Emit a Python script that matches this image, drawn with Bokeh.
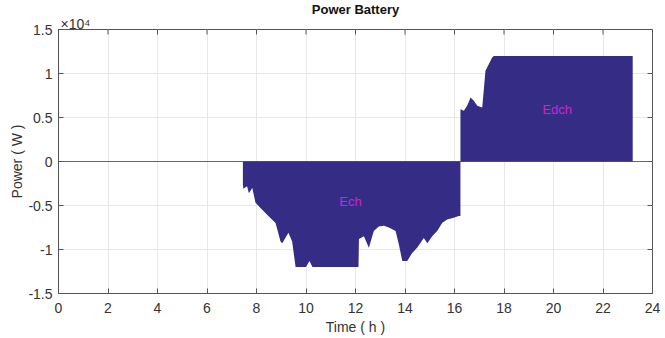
import math
from bokeh.plotting import figure
from bokeh.models import FixedTicker, Span, Label, Range1d, Title
from bokeh.embed import file_html
from bokeh.resources import INLINE

# Battery power (W) vs time (h)
time_h = [7.45, 7.45, 7.47, 7.62, 7.69, 7.83, 7.96, 8.2, 8.48, 8.77, 8.97, 9.04, 9.29, 9.44,
          9.58, 10.0, 10.14, 10.26, 12.12, 12.14, 12.34, 12.54, 12.74, 12.94, 13.15, 13.35,
          13.62, 13.75, 13.89, 14.09, 14.29, 14.49, 14.76, 14.90, 15.10, 15.30, 15.50, 15.70,
          15.97, 16.17, 16.24, 16.24, 16.38, 16.51, 16.65, 16.78, 16.92, 17.12, 17.18, 17.25,
          17.39, 17.52, 17.59, 23.2, 23.2]
power_w = [0, -2600, -3100, -2800, -3600, -3000, -4700, -5400, -6200, -7000, -9100, -9300,
           -8100, -9100, -12000, -12000, -11300, -12000, -12000, -8800, -8500, -9800, -7900,
           -7400, -7300, -7500, -7900, -9400, -11300, -11300, -10400, -9800, -8700, -9300,
           -8500, -7900, -7000, -6600, -6400, -6200, -6200, 5950, 5760, 6330, 7270, 6900,
           6330, 6130, 8040, 10320, 11080, 11830, 12000, 12000, 0]
baseline = [0] * len(time_h)

x_ticks = [0, 2, 4, 6, 8, 10, 12, 14, 16, 18, 20, 22, 24]
y_ticks = [-15000, -10000, -5000, 0, 5000, 10000, 15000]
y_tick_labels = ["-1.5", "-1", "-0.5", "0", "0.5", "1", "1.5"]

label_texts = ["Ech", "Edch"]
label_x = [11.8, 20.15]
label_y = [-4600, 5900]

X_MIN, X_MAX = 0, 24
Y_MIN, Y_MAX = -15000, 15000

FONT = "Liberation Sans"
AX = "#555555"
TXT = "#333333"

p = figure(width=665, height=338, output_backend="svg", toolbar_location=None,
           x_range=Range1d(X_MIN, X_MAX), y_range=Range1d(Y_MIN, Y_MAX),
           min_border_left=58, min_border_right=13, min_border_top=29, min_border_bottom=45,
           title=None)

# exponent note just above the top-left corner of the box, then the main title above it
p.add_layout(Title(text="\u00d710\u2074", align="left", offset=2, standoff=-4,
                   text_font=FONT, text_font_size="14px", text_font_style="normal",
                   text_color=TXT), "above")
p.add_layout(Title(text="Power Battery", align="center", standoff=-2,
                   text_font=FONT, text_font_size="13px", text_font_style="bold",
                   text_color="#111111"), "above")

p.varea(x=time_h, y1=baseline, y2=power_w, fill_color="#352C86")

zero = Span(location=0, dimension="width", line_color="#666666", line_width=1, level="underlay")
p.add_layout(zero)

p.xaxis.ticker = FixedTicker(ticks=x_ticks)
p.yaxis.ticker = FixedTicker(ticks=y_ticks)
p.yaxis.major_label_overrides = {t: l for t, l in zip(y_ticks, y_tick_labels)}

for ax in (p.xaxis[0], p.yaxis[0]):
    ax.major_tick_in = 5
    ax.major_tick_out = 0
    ax.minor_tick_in = 0
    ax.minor_tick_out = 0
    ax.axis_line_color = AX
    ax.major_tick_line_color = AX
    ax.major_label_text_font = FONT
    ax.major_label_text_font_size = "14px"
    ax.major_label_text_color = TXT
    ax.axis_label_text_font = FONT
    ax.axis_label_text_font_size = "14px"
    ax.axis_label_text_font_style = "normal"
    ax.axis_label_text_color = TXT

p.xaxis.major_label_standoff = 9
p.xaxis.axis_label_standoff = 3
p.yaxis.major_label_standoff = 6
p.yaxis.axis_label_standoff = 0

p.xaxis.axis_label = "Time ( h )"
p.yaxis.axis_label = "Power ( W )"

# inward ticks on the top and right edges of the box
p.ray(x=x_ticks, y=[Y_MAX] * len(x_ticks), length=5, length_units="screen",
      angle=-math.pi / 2, line_color=AX, line_width=1)
p.ray(x=[X_MAX] * len(y_ticks), y=y_ticks, length=5, length_units="screen",
      angle=math.pi, line_color=AX, line_width=1)

p.xgrid.grid_line_color = "#e8e8e8"
p.ygrid.grid_line_color = "#e8e8e8"
p.outline_line_color = AX

for t, x, y in zip(label_texts, label_x, label_y):
    p.add_layout(Label(x=x, y=y, text=t, text_align="center", text_baseline="middle",
                       text_font=FONT, text_font_size="13px", text_color="#CC22D8"))

open("out.html", "w").write(file_html(p, INLINE))
